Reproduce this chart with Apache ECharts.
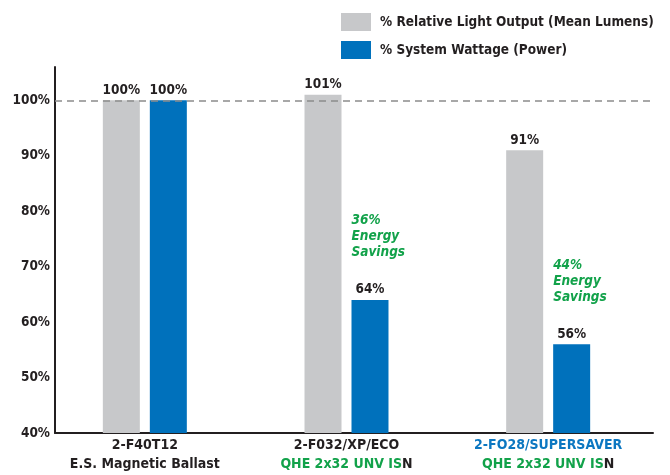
<!DOCTYPE html>
<html>
<head>
<meta charset="utf-8">
<script src="https://cdn.jsdelivr.net/npm/echarts@6/dist/echarts.min.js"></script>
<style>
  html, body { margin: 0; padding: 0; background: #fff; }
  #chart { width: 670px; height: 475px; }
</style>
</head>
<body>
<div id="chart"></div>
<script>
// Ballast comparison: relative light output vs. system wattage
const catTop = ['2-F40T12', '2-F032/XP/ECO', '2-FO28/SUPERSAVER'];
const catBottom = ['E.S. Magnetic Ballast', 'QHE 2x32 UNV ISN', 'QHE 2x32 UNV ISN'];
const lumens = [100, 101, 91];
const wattage = [100, 64, 56];
const savings = [null, 36, 44];
const seriesNames = ['% Relative Light Output (Mean Lumens)', '% System Wattage (Power)'];
const yMin = 40, yMax = 106, yStep = 10;

const FONT = '"DejaVu Sans Condensed", "Liberation Sans Narrow", Arial, sans-serif';
const DARK = '#231f20';
const GRAY = '#c7c8ca';
const BLUE = '#0071bc';
const GREEN = '#12a24a';
const LABEL_BLUE = '#0c77c1';

const chart = echarts.init(document.getElementById('chart'), null, { renderer: 'canvas' });

// Rich-text category labels: first line dark (or blue), second line green with a dark final letter
function categoryLabel(value, idx) {
  const top = catTop[idx];
  const bottom = catBottom[idx];
  const topKey = idx === 2 ? 'b' : 'd';
  let second;
  if (idx === 0) {
    second = '{d|' + bottom + '}';
  } else {
    second = '{g|' + bottom.slice(0, -1) + '}{d|' + bottom.slice(-1) + '}';
  }
  return '{' + topKey + '|' + top + '}\n' + second;
}

const richBase = { fontFamily: FONT, fontWeight: 'bold', fontSize: 14, lineHeight: 19 };

const annotations = [];
savings.forEach((s, i) => {
  if (s != null) annotations.push([i, wattage[i], s]);
});

const option = {
  animation: false,
  backgroundColor: '#fff',
  textStyle: { fontFamily: FONT },
  legend: {
    orient: 'vertical',
    left: 336,
    top: 8,
    itemWidth: 30,
    itemHeight: 18,
    itemGap: 10,
    icon: 'rect',
    data: seriesNames,
    selectedMode: false,
    textStyle: { fontFamily: FONT, fontWeight: 'bold', fontSize: 13.5, color: DARK, padding: [0, 0, 0, 4] }
  },
  grid: [
    { left: 55, right: 17, top: 67, bottom: 42 },
    { left: 44, right: 21, top: 67, bottom: 42 }
  ],
  xAxis: [
    {
      type: 'category', gridIndex: 0, data: catTop,
      axisLine: { show: true, lineStyle: { color: DARK, width: 2 } },
      axisTick: { show: false }, axisLabel: { show: false }
    },
    {
      type: 'category', gridIndex: 1, data: catTop,
      axisLine: { show: false }, axisTick: { show: false },
      axisLabel: {
        margin: 3,
        formatter: categoryLabel,
        rich: {
          d: Object.assign({ color: DARK }, richBase),
          b: Object.assign({ color: LABEL_BLUE }, richBase),
          g: Object.assign({ color: GREEN }, richBase)
        }
      }
    }
  ],
  yAxis: [
    {
      type: 'value', gridIndex: 0, min: yMin, max: yMax, interval: yStep,
      axisLine: { show: true, lineStyle: { color: DARK, width: 2 } },
      axisTick: { show: false },
      splitLine: { show: false },
      axisLabel: {
        showMaxLabel: false,
        margin: 5,
        formatter: v => (v % yStep === 0 ? v + '%' : ''),
        fontFamily: FONT, fontWeight: 'bold', fontSize: 13.5, color: DARK
      }
    },
    {
      type: 'value', gridIndex: 1, min: yMin, max: yMax, interval: yStep, show: false
    }
  ],
  series: [
    {
      name: seriesNames[0], type: 'bar', xAxisIndex: 1, yAxisIndex: 1,
      data: lumens, barWidth: 37, barGap: '27%', z: 2,
      itemStyle: { color: GRAY },
      label: {
        show: true, position: 'top', distance: 3, formatter: '{c}%',
        fontFamily: FONT, fontWeight: 'bold', fontSize: 13.5, color: DARK
      }
    },
    {
      name: seriesNames[1], type: 'bar', xAxisIndex: 1, yAxisIndex: 1,
      data: wattage, barWidth: 37, barGap: '27%', z: 2,
      itemStyle: { color: BLUE },
      label: {
        show: true, position: 'top', distance: 3, formatter: '{c}%',
        fontFamily: FONT, fontWeight: 'bold', fontSize: 13.5, color: DARK
      }
    },
    {
      // dashed 100% reference line across the plot
      type: 'line', xAxisIndex: 0, yAxisIndex: 0, data: [], z: 5,
      silent: true,
      markLine: {
        silent: true, symbol: 'none', label: { show: false },
        lineStyle: { color: '#8c8c8c', type: [7, 5], width: 1.5 },
        data: [{ yAxis: 100 }]
      }
    },
    {
      // green energy-savings notes above the wattage bars
      type: 'custom', xAxisIndex: 1, yAxisIndex: 1, data: annotations, z: 6, silent: true,
      renderItem: function (params, api) {
        const pt = api.coord([api.value(0), api.value(1)]);
        return {
          type: 'text',
          style: {
            text: api.value(2) + '%\nEnergy\nSavings',
            x: pt[0] + 5,
            y: pt[1] - 87,
            fill: GREEN,
            font: 'italic bold 13.5px ' + FONT,
            lineHeight: 16,
            textAlign: 'left',
            textVerticalAlign: 'top'
          }
        };
      }
    }
  ]
};

chart.setOption(option);
</script>
</body>
</html>
